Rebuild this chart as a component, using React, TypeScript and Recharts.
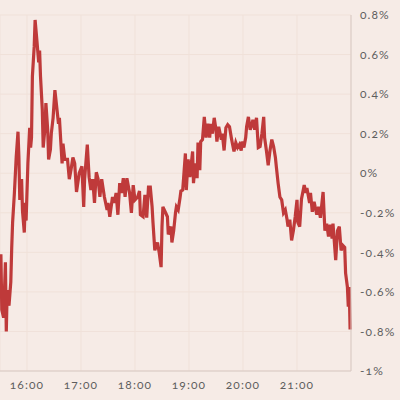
import { LineChart, Line, XAxis, YAxis, CartesianGrid } from 'recharts'

// minutes since midnight (15:30 = 930, 22:00 = 1320)
const minutes = [
  931, 932, 934, 936, 937, 938, 940, 942, 943, 944, 946, 948, 950, 951, 952, 954, 955, 957, 958, 959,
  961, 963, 964, 965, 966, 968, 969, 971, 973, 974, 975, 977, 978, 980, 981, 983, 984, 986, 987, 989,
  991, 993, 995, 996, 999, 1000, 1002, 1005, 1007, 1009, 1011, 1013, 1015, 1018, 1021, 1023, 1024, 1027, 1029, 1031,
  1033, 1035, 1037, 1039, 1041, 1043, 1046, 1049, 1050, 1052, 1055, 1057, 1059, 1061, 1063, 1065, 1067, 1069, 1071, 1074,
  1076, 1078, 1080, 1083, 1085, 1086, 1089, 1091, 1093, 1095, 1097, 1099, 1100, 1102, 1105, 1107, 1109, 1110, 1111, 1114,
  1116, 1117, 1120, 1121, 1123, 1125, 1126, 1128, 1130, 1131, 1133, 1134, 1136, 1137, 1139, 1141, 1144, 1145, 1147, 1149,
  1150, 1152, 1153, 1155, 1157, 1159, 1161, 1163, 1164, 1166, 1168, 1170, 1171, 1173, 1176, 1177, 1179, 1181, 1183, 1185,
  1187, 1188, 1190, 1192, 1194, 1196, 1198, 1199, 1201, 1203, 1204, 1206, 1208, 1210, 1211, 1213, 1215, 1217, 1219, 1221,
  1223, 1224, 1226, 1228, 1230, 1232, 1234, 1236, 1237, 1239, 1241, 1243, 1245, 1247, 1249, 1250, 1252, 1254, 1256, 1258,
  1260, 1261, 1263, 1265, 1268, 1270, 1271, 1274, 1275, 1277, 1279, 1282, 1284, 1286, 1289, 1291, 1293, 1295, 1297, 1299,
  1300, 1303, 1305, 1307, 1309, 1311, 1313, 1314, 1316, 1317, 1318, 1319,
]

// change in percent
const changes = [
  -0.41, -0.69, -0.73, -0.45, -0.8, -0.59, -0.67, -0.55, -0.38, -0.25, -0.1, 0.08, 0.21, 0.08, -0.135, -0.03, -0.19, -0.3, -0.15, -0.24,
  0.05, 0.23, 0.13, 0.18, 0.49, 0.64, 0.775, 0.67, 0.56, 0.62, 0.49, 0.32, 0.13, 0.23, 0.355, 0.22, 0.07, 0.12, 0.2, 0.28,
  0.42, 0.335, 0.25, 0.28, 0.05, 0.15, 0.07, 0.07, -0.03, 0.02, 0.08, 0.05, -0.095, 0.0, 0.035, -0.17, -0.03, 0.145, -0.02, -0.085,
  -0.03, -0.15, 0.005, -0.03, -0.12, -0.03, -0.12, -0.185, -0.15, -0.22, -0.12, -0.15, -0.1, -0.21, -0.05, -0.1, -0.025, -0.12, -0.025, -0.1,
  -0.2, -0.06, -0.135, -0.12, -0.09, -0.21, -0.22, -0.11, -0.225, -0.07, -0.07, -0.17, -0.25, -0.39, -0.35, -0.405, -0.475, -0.27, -0.17, -0.2,
  -0.22, -0.31, -0.27, -0.35, -0.29, -0.2, -0.17, -0.185, -0.125, -0.09, -0.085, -0.025, 0.1, -0.085, 0.07, -0.02, 0.11, -0.05, 0.05, -0.025,
  0.155, 0.015, 0.16, 0.17, 0.285, 0.18, 0.25, 0.18, 0.25, 0.2, 0.28, 0.22, 0.16, 0.235, 0.17, 0.2, 0.115, 0.23, 0.245, 0.235,
  0.18, 0.155, 0.11, 0.155, 0.13, 0.145, 0.115, 0.16, 0.13, 0.18, 0.235, 0.285, 0.22, 0.25, 0.27, 0.22, 0.28, 0.13, 0.135, 0.2,
  0.285, 0.18, 0.115, 0.04, 0.115, 0.17, 0.135, 0.08, 0.035, -0.05, -0.12, -0.135, -0.2, -0.185, -0.235, -0.27, -0.235, -0.34, -0.29, -0.22,
  -0.135, -0.25, -0.27, -0.13, -0.06, -0.1, -0.075, -0.15, -0.1, -0.195, -0.145, -0.21, -0.17, -0.225, -0.095, -0.29, -0.255, -0.32, -0.26, -0.33,
  -0.255, -0.44, -0.29, -0.27, -0.39, -0.365, -0.375, -0.505, -0.575, -0.675, -0.575, -0.79,
]

const hourTicks = [960, 1020, 1080, 1140, 1200, 1260]
const pctTicks = [-1, -0.8, -0.6, -0.4, -0.2, 0, 0.2, 0.4, 0.6, 0.8]

const data = minutes.map((m, i) => ({ t: m, v: changes[i] }))

const fmtTime = (m: number) => `${Math.floor(m / 60)}:${String(m % 60).padStart(2, '0')}`
const fmtPct = (v: number) => (Number.isInteger(v) ? `${v}%` : `${v.toFixed(1)}%`)

export default function App() {
  return (
    <div
      style={{
        position: 'absolute',
        left: 0,
        top: 0,
        width: 400,
        height: 400,
        background: '#f6ebe6',
        fontFamily: 'Lato, sans-serif',
        fontVariantNumeric: 'oldstyle-nums',
        letterSpacing: '1.1px',
      }}
    >
      <LineChart width={400} height={400} data={data} margin={{ top: 15, right: 0, bottom: 0, left: 0 }}>
        <CartesianGrid stroke="#f0e1d9" strokeWidth={1} />
        <XAxis
          dataKey="t"
          type="number"
          domain={[930, 1320]}
          ticks={hourTicks}
          tickFormatter={fmtTime}
          height={29}
          tickLine={false}
          tickSize={0}
          tickMargin={9}
          axisLine={{ stroke: '#d8c9c3' }}
          tick={{ fill: '#5e5e5e', fontSize: 12 }}
        />
        <YAxis
          orientation="right"
          type="number"
          domain={[-1, 0.8]}
          ticks={pctTicks}
          tickFormatter={fmtPct}
          width={49}
          tickLine={false}
          tickSize={0}
          tickMargin={9}
          axisLine={{ stroke: '#d8c9c3' }}
          tick={{ fill: '#5e5e5e', fontSize: 12, textAnchor: 'start' }}
        />
        <Line
          dataKey="v"
          type="linear"
          stroke="#bf3a3a"
          strokeWidth={3.2}
          dot={false}
          isAnimationActive={false}
        />
      </LineChart>
    </div>
  )
}
